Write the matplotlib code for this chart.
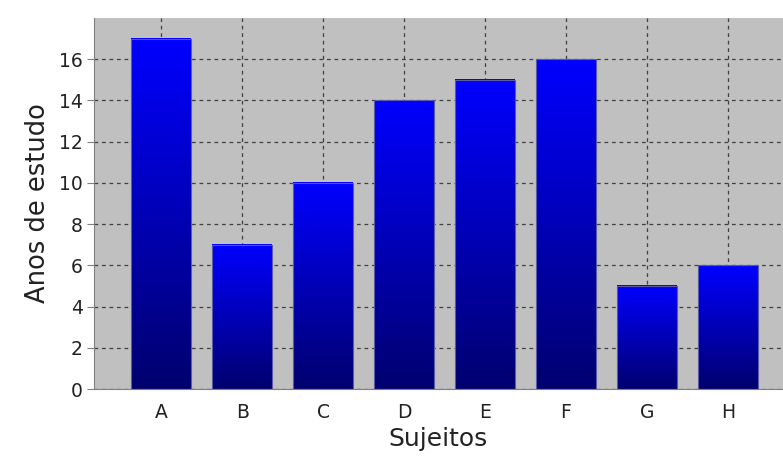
import numpy as np
import matplotlib.pyplot as plt
from matplotlib.colors import LinearSegmentedColormap

sujeitos = ['A', 'B', 'C', 'D', 'E', 'F', 'G', 'H']
anos = [17, 7, 10, 14, 15, 16, 5, 6]
yticks = [0, 2, 4, 6, 8, 10, 12, 14, 16]


def gradient_bars(ax, labels, values, width=0.74):
    """Bars filled with a vertical blue gradient (dark at the base, bright on top)"""
    cmap = LinearSegmentedColormap.from_list('azul', ['#00006e', '#0000ff'])
    grad = np.linspace(0, 1, 256).reshape(-1, 1)
    for i, v in enumerate(values):
        x0, x1 = i - width / 2, i + width / 2
        ax.imshow(grad, extent=(x0, x1, 0, v), origin='lower', cmap=cmap,
                  aspect='auto', zorder=2, interpolation='bilinear')
        ax.add_patch(plt.Rectangle((x0, 0), width, v, fill=False,
                                   edgecolor='#5a5aa8', lw=0.8, zorder=3))


def main():
    fig = plt.figure(figsize=(7.83, 4.61), dpi=100)
    ax = fig.add_axes([94 / 783, 1 - 389 / 461, 1 - 94 / 783, (389 - 18) / 461])
    ax.set_facecolor('#c0c0c0')

    gradient_bars(ax, sujeitos, anos)

    ax.set_xlim(-0.83, 7.68)
    ax.set_ylim(0, 18)
    ax.set_xticks(range(len(sujeitos)))
    ax.set_xticklabels(sujeitos)
    ax.set_yticks(yticks)

    ax.grid(True, color='#404040', linestyle=(0, (3, 3)), linewidth=0.9, zorder=1)
    ax.set_axisbelow(True)
    for s in ['top', 'right']:
        ax.spines[s].set_visible(False)
    for s in ['left', 'bottom']:
        ax.spines[s].set_color('#808080')
    ax.tick_params(axis='y', colors='#808080', labelcolor='#222222', labelsize=13.5, length=5, pad=3)
    ax.tick_params(axis='x', length=0, labelcolor='#222222', labelsize=13.5, pad=10)

    ax.set_xlabel('Sujeitos', fontsize=18, color='#222222', labelpad=4)
    ax.set_ylabel('Anos de estudo', fontsize=18.5, color='#222222', labelpad=6)

    fig.savefig('out.png', dpi=100)


if __name__ == "__main__":
    main()
